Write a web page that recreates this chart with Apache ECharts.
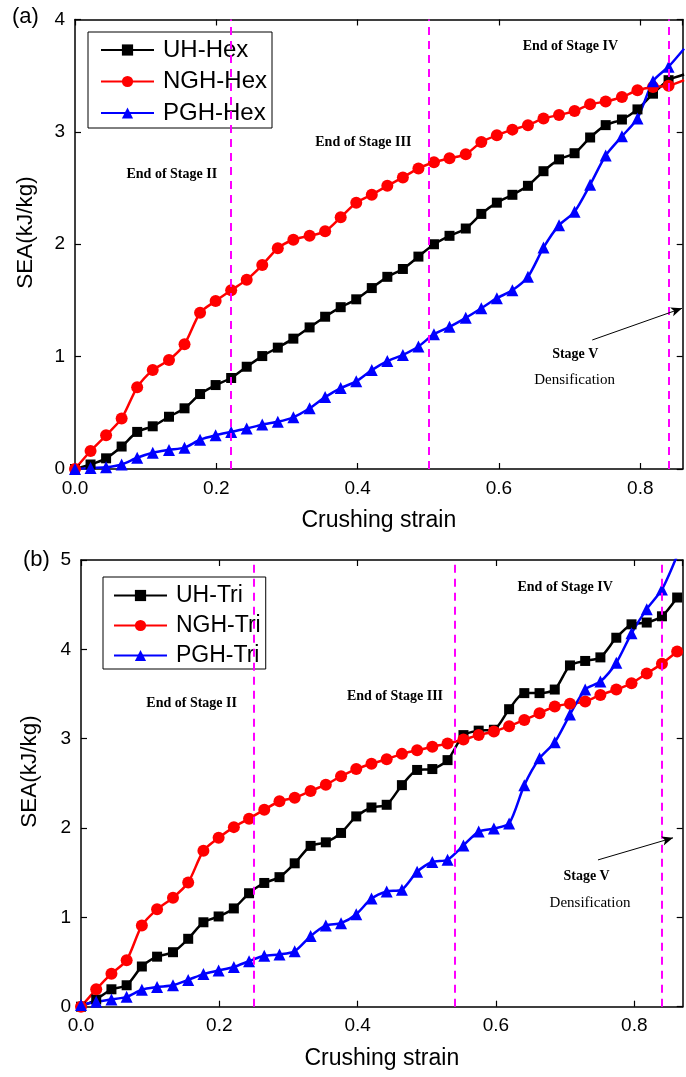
<!DOCTYPE html>
<html><head><meta charset="utf-8">
<script src="https://cdn.jsdelivr.net/npm/echarts@6/dist/echarts.min.js"></script>
<style>html,body{margin:0;padding:0;background:#fff}#c{width:686px;height:1077px}</style>
</head><body><div id="c"></div>
<script>
// Crushing strain (shared x positions of the markers)
const strain = [0,0.022,0.044,0.066,0.088,0.11,0.133,0.155,0.177,0.199,0.221,0.243,0.265,0.287,0.309,0.332,0.354,0.376,0.398,0.42,0.442,0.464,0.486,0.508,0.53,0.553,0.575,0.597,0.619,0.641,0.663,0.685,0.707,0.729,0.751,0.774,0.796,0.818,0.84,0.862];
// (a) hexagonal
const uhHex  = [0,0.04,0.095,0.20,0.33,0.38,0.465,0.54,0.667,0.747,0.81,0.91,1.005,1.08,1.16,1.26,1.355,1.44,1.51,1.61,1.71,1.78,1.89,2.00,2.075,2.14,2.27,2.37,2.44,2.52,2.65,2.755,2.81,2.95,3.06,3.11,3.20,3.34,3.46,3.51];
const nghHex = [0,0.16,0.30,0.45,0.727,0.88,0.97,1.11,1.39,1.495,1.59,1.685,1.815,1.965,2.04,2.075,2.115,2.24,2.37,2.44,2.52,2.595,2.675,2.73,2.765,2.80,2.91,2.97,3.02,3.06,3.12,3.15,3.185,3.245,3.27,3.31,3.37,3.40,3.41,3.46];
const pghHex = [0,0.01,0.015,0.04,0.10,0.145,0.17,0.19,0.26,0.30,0.33,0.36,0.395,0.42,0.46,0.54,0.64,0.72,0.78,0.88,0.96,1.015,1.09,1.20,1.265,1.345,1.43,1.52,1.59,1.71,1.97,2.17,2.29,2.53,2.79,2.96,3.12,3.45,3.58,3.74];
// (b) triangular
const uhTri  = [0,0.08,0.195,0.24,0.45,0.56,0.61,0.76,0.945,1.01,1.10,1.27,1.385,1.45,1.605,1.80,1.84,1.945,2.13,2.23,2.26,2.48,2.65,2.66,2.76,3.04,3.09,3.10,3.33,3.51,3.51,3.55,3.82,3.87,3.91,4.13,4.28,4.30,4.37,4.58];
const nghTri = [0,0.195,0.37,0.52,0.91,1.09,1.22,1.39,1.745,1.89,2.01,2.105,2.205,2.30,2.34,2.415,2.485,2.58,2.66,2.72,2.77,2.83,2.87,2.91,2.945,2.99,3.04,3.08,3.14,3.21,3.285,3.36,3.39,3.415,3.49,3.55,3.62,3.73,3.84,3.975];
const pghTri = [0.02,0.056,0.08,0.11,0.19,0.22,0.24,0.30,0.365,0.405,0.445,0.51,0.57,0.585,0.62,0.79,0.91,0.935,1.035,1.21,1.29,1.31,1.51,1.62,1.645,1.805,1.96,1.995,2.05,2.48,2.78,2.96,3.27,3.55,3.64,3.85,4.18,4.45,4.67,5.05];
// stage boundaries (strain)
const stagesHex = [0.222, 0.496, 0.844];
const stagesTri = [0.25, 0.543, 0.84];
const namesHex = ['UH-Hex','NGH-Hex','PGH-Hex'];
const namesTri = ['UH-Tri','NGH-Tri','PGH-Tri'];
const xTicksA = {min:0, max:0.86, interval:0.2};
const xTicksB = {min:0, max:0.87, interval:0.2};
const yTicksA = {min:0, max:4, interval:1};
const yTicksB = {min:0, max:5, interval:1};
// annotations [text, x, y, bold]
const annHex = [['End of Stage II',0.137,2.62,true],['End of Stage III',0.408,2.91,true],['End of Stage IV',0.701,3.76,true],['Stage V',0.708,1.02,true],['Densification',0.707,0.79,false]];
const annTri = [['End of Stage II',0.160,3.40,true],['End of Stage III',0.454,3.47,true],['End of Stage IV',0.700,4.69,true],['Stage V',0.731,1.46,true],['Densification',0.736,1.165,false]];
const arrowHex = [[0.732,1.148],[0.859,1.43]];
const arrowTri = [[0.7475,1.643],[0.856,1.89]];

const SANS = 'Liberation Sans, Arial, sans-serif';
const SERIF = 'Liberation Serif, Times New Roman, serif';
const colors = ['#000000','#ff0000','#0000ff'];
const symbols = ['rect','circle','triangle'];
const sizes = [10,12,12];

const chart = echarts.init(document.getElementById('c'), null, {renderer:'canvas'});

function xAxisDef(grid, t, main){
  return {type:'value', gridIndex:grid, position: main?'bottom':'top', min:t.min, max:t.max, interval:t.interval,
    name: main?'Crushing strain':'', nameLocation:'middle', nameGap:40,
    nameTextStyle:{fontFamily:SANS, fontSize:23, color:'#000'},
    axisLine:{show:true, onZero:false, lineStyle:{color:'#000', width:1.5}},
    axisTick:{show:true, inside:true, length:6, lineStyle:{color:'#000', width:1.2}},
    axisLabel:{show:main, inside:false, margin:10, fontFamily:SANS, fontSize:19, color:'#000', showMaxLabel:false,
      formatter:v=>v.toFixed(1)},
    splitLine:{show:false}};
}
function yAxisDef(grid, t, main){
  return {type:'value', gridIndex:grid, position: main?'left':'right', min:t.min, max:t.max, interval:t.interval,
    axisLine:{show:true, onZero:false, lineStyle:{color:'#000', width:1.5}},
    axisTick:{show:true, inside:true, length:6, lineStyle:{color:'#000', width:1.2}},
    axisLabel:{show:main, margin:10, fontFamily:SANS, fontSize:19, color:'#000', formatter:v=>String(v)},
    splitLine:{show:false}};
}
function mkSeries(names, arrays, xi, yi, stages, arrow){
  return arrays.map((arr,k)=>{
    const s = {type:'line', name:names[k], xAxisIndex:xi, yAxisIndex:yi,
      data: arr.map((v,i)=>[strain[i], v]),
      smooth:0.25, symbol:symbols[k], symbolSize:sizes[k], showSymbol:true,
      lineStyle:{color:colors[k], width:2.5}, itemStyle:{color:colors[k]},
      clip:true, animation:false, z:3};
    if(k===0){
      s.markLine = {silent:true, animation:false, symbol:'none', label:{show:false},
        data: stages.map(x=>({xAxis:x, lineStyle:{color:'#ff00ff', type:[8,6], width:2}})).concat([
          [{coord:arrow[0], symbol:'none', lineStyle:{color:'#000', width:1, type:'solid'}},
           {coord:arrow[1], symbol:'arrow', symbolSize:[7,11]}]
        ])};
    }
    return s;
  });
}
function legendDef(names, left, top, fs, gap, pad){
  return {data:names, orient:'vertical', left:left, top:top, backgroundColor:'#fff', borderColor:'#000', borderWidth:1,
    padding:pad, itemGap:gap, itemWidth:53, itemHeight:14,
    textStyle:{fontFamily:SANS, fontSize:fs, color:'#000', lineHeight:22, padding:[0,0,0,4]}};
}

chart.setOption({
  animation:false,
  backgroundColor:'#fff',
  grid:[{left:75, top:19.5, width:607.7, height:449.5},
        {left:81, top:560, width:601.7, height:446.7}],
  xAxis:[xAxisDef(0,xTicksA,true), xAxisDef(0,xTicksA,false), xAxisDef(1,xTicksB,true), xAxisDef(1,xTicksB,false)],
  yAxis:[yAxisDef(0,yTicksA,true), yAxisDef(0,yTicksA,false), yAxisDef(1,yTicksB,true), yAxisDef(1,yTicksB,false)],
  legend:[legendDef(namesHex, 88, 32, 24, 7.5, [6,5,3,12]), legendDef(namesTri, 103, 577, 23, 7, [7,5,2,10])],
  series: mkSeries(namesHex,[uhHex,nghHex,pghHex],0,0,stagesHex,arrowHex)
    .concat(mkSeries(namesTri,[uhTri,nghTri,pghTri],2,2,stagesTri,arrowTri))
});

const g = [];
function addAnn(list, xi, yi){
  list.forEach(a=>{
    const p = chart.convertToPixel({xAxisIndex:xi, yAxisIndex:yi}, [a[1], a[2]]);
    g.push({type:'text', x:p[0], y:p[1], z:10, style:{text:a[0], fontFamily:SERIF, fontWeight:a[3]?'bold':'normal',
      fontSize:a[3]?14:15, fill:'#000', align:'center', verticalAlign:'middle'}});
  });
}
addAnn(annHex,0,0); addAnn(annTri,2,2);
g.push({type:'text', left:12, top:6, style:{text:'(a)', fontFamily:SANS, fontSize:22, fill:'#000'}});
g.push({type:'text', left:23, top:549, style:{text:'(b)', fontFamily:SANS, fontSize:22, fill:'#000'}});
g.push({type:'text', x:26, y:232.5, rotation:Math.PI/2, style:{text:'SEA(kJ/kg)', fontFamily:SANS, fontSize:22.5, fill:'#000', align:'center', verticalAlign:'middle'}});
g.push({type:'text', x:30, y:771.5, rotation:Math.PI/2, style:{text:'SEA(kJ/kg)', fontFamily:SANS, fontSize:22.5, fill:'#000', align:'center', verticalAlign:'middle'}});
chart.setOption({graphic:g});
</script></body></html>
